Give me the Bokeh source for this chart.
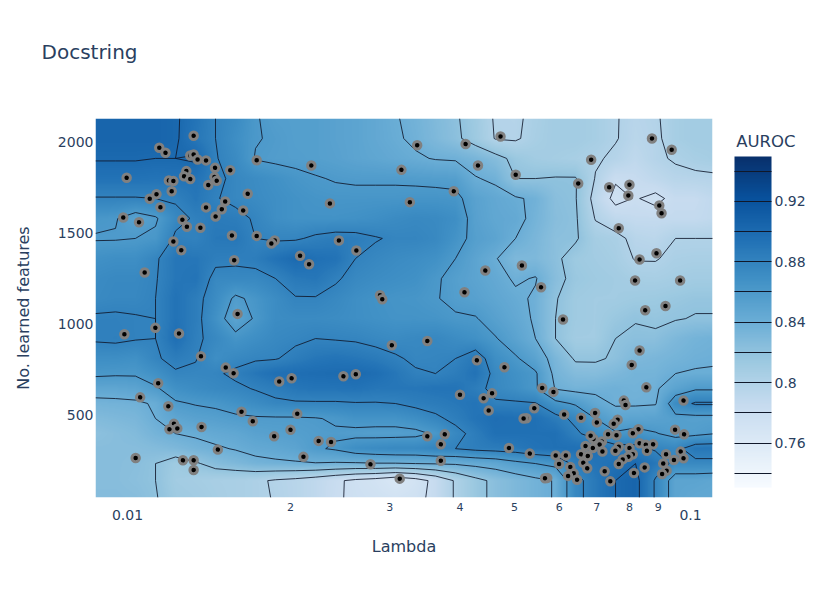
import numpy as np
from bokeh.embed import file_html
from bokeh.resources import INLINE
from bokeh.plotting import figure
from bokeh.models import (ColorBar, FixedTicker, LogAxis, LinearColorMapper, Range1d, Title)

title_text = "Docstring"
x_title = "Lambda"
y_title = "No. learned features"
cbar_title = "AUROC"
NAVY = "#2a3f5f"
FONT = "DejaVu Sans"

x_ticks = [0.02, 0.03, 0.04, 0.05, 0.06, 0.07, 0.08, 0.09]
x_tick_text = ["2", "3", "4", "5", "6", "7", "8", "9"]
x_decades = [0.01027, 0.1027]
x_decade_text = ["0.01", "0.1"]
y_ticks = [500, 1000, 1500, 2000]
levels = [0.74, 0.76, 0.78, 0.80, 0.82, 0.84, 0.86, 0.88, 0.90, 0.92, 0.94]
z_low, z_high = 0.7306, 0.9496
blues = ["#f7fbff", "#deebf7", "#c6dbef", "#9ecae1", "#6baed6", "#4292c6", "#2171b5", "#08519c", "#08306b"]

grid_log_lambda = [-2.0453, -2.0098, -1.9743, -1.9387, -1.9032, -1.8677, -1.8322, -1.7966, -1.7611, -1.7256, -1.6901,
                   -1.6546, -1.6190, -1.5835, -1.5480, -1.5125, -1.4769, -1.4414, -1.4059, -1.3704, -1.3349, -1.2993,
                   -1.2638, -1.2283, -1.1928, -1.1573, -1.1217, -1.0862, -1.0507, -1.0152, -0.9796, -0.9441]
grid_features = [2132, 2022, 1912, 1801, 1691, 1581, 1471, 1360, 1250, 1140, 1029, 919, 809, 726, 643, 561, 478, 395, 312, 230, 136, 42]
auroc_grid = [
 [.905,.905,.905,.905,.902,.892,.880,.873,.861,.856,.855,.855,.852,.85,.846,.841,.836,.829,.822,.812,.798,.797,.805,.81,.81,.807,.801,.795,.798,.807,.81,.81],
 [.905,.905,.905,.905,.902,.89,.88,.87,.861,.858,.855,.855,.852,.85,.846,.842,.837,.83,.823,.813,.799,.798,.806,.81,.81,.807,.801,.794,.797,.807,.81,.81],
 [.901,.901,.901,.90,.90,.902,.881,.873,.859,.857,.856,.855,.853,.85,.848,.845,.842,.839,.838,.833,.826,.815,.81,.808,.806,.802,.797,.79,.797,.802,.806,.808],
 [.893,.893,.893,.892,.893,.892,.884,.876,.872,.868,.864,.861,.859,.858,.858,.858,.857,.856,.855,.841,.837,.82,.82,.821,.821,.799,.782,.785,.79,.795,.796,.797],
 [.879,.879,.879,.88,.882,.89,.881,.876,.873,.87,.867,.865,.864,.864,.864,.864,.865,.865,.864,.852,.846,.842,.837,.824,.821,.793,.775,.781,.776,.785,.785,.79],
 [.863,.861,.852,.858,.875,.882,.887,.885,.878,.87,.867,.867,.867,.868,.87,.873,.875,.874,.87,.853,.847,.845,.835,.825,.822,.799,.79,.787,.787,.787,.787,.79],
 [.859,.859,.86,.863,.883,.881,.889,.89,.88,.878,.878,.883,.886,.885,.881,.878,.878,.875,.866,.855,.85,.84,.832,.823,.822,.808,.805,.795,.793,.80,.80,.80],
 [.868,.87,.87,.878,.89,.89,.884,.883,.885,.893,.90,.895,.893,.88,.876,.873,.871,.868,.86,.85,.841,.83,.83,.823,.813,.81,.807,.799,.799,.804,.805,.805],
 [.873,.875,.875,.879,.89,.892,.875,.875,.875,.88,.888,.89,.882,.875,.872,.87,.868,.862,.855,.85,.845,.838,.841,.825,.815,.812,.81,.807,.806,.808,.81,.81],
 [.874,.876,.876,.88,.893,.885,.872,.857,.864,.872,.879,.879,.875,.87,.867,.865,.864,.861,.856,.853,.848,.843,.838,.821,.812,.81,.81,.812,.813,.815,.817,.817],
 [.882,.882,.881,.88,.893,.885,.868,.85,.862,.872,.873,.873,.872,.87,.868,.866,.866,.865,.862,.861,.853,.846,.838,.82,.812,.81,.815,.819,.817,.819,.821,.821],
 [.882,.883,.881,.88,.896,.883,.875,.865,.87,.875,.877,.88,.879,.878,.875,.873,.875,.876,.872,.868,.861,.851,.84,.82,.81,.81,.82,.823,.823,.83,.835,.837],
 [.87,.87,.868,.878,.885,.881,.87,.875,.878,.879,.885,.89,.892,.89,.887,.882,.877,.878,.88,.889,.87,.862,.851,.832,.818,.818,.822,.83,.832,.835,.838,.839],
 [.863,.862,.862,.868,.878,.877,.878,.883,.89,.896,.897,.898,.899,.90,.897,.89,.882,.88,.885,.893,.875,.868,.862,.835,.827,.826,.83,.835,.835,.84,.841,.841],
 [.848,.848,.85,.858,.868,.872,.875,.877,.881,.885,.89,.892,.892,.893,.89,.89,.89,.892,.892,.885,.875,.87,.862,.839,.835,.836,.838,.836,.838,.85,.858,.858],
 [.835,.836,.837,.842,.858,.861,.863,.867,.872,.877,.878,.878,.878,.879,.879,.88,.884,.886,.889,.892,.882,.882,.881,.865,.858,.846,.838,.838,.839,.872,.882,.882],
 [.828,.83,.832,.84,.848,.852,.854,.857,.858,.858,.858,.859,.862,.866,.866,.866,.87,.877,.884,.892,.897,.895,.895,.886,.876,.86,.849,.85,.851,.855,.854,.854],
 [.822,.825,.828,.835,.84,.842,.845,.847,.852,.854,.855,.857,.858,.856,.855,.855,.856,.862,.875,.885,.895,.895,.895,.895,.883,.872,.862,.866,.861,.855,.856,.86],
 [.825,.825,.825,.827,.83,.835,.838,.841,.845,.847,.85,.858,.862,.87,.873,.875,.875,.879,.88,.884,.886,.888,.893,.895,.895,.895,.887,.885,.878,.875,.89,.89],
 [.825,.825,.824,.82,.812,.818,.826,.83,.835,.837,.838,.839,.838,.838,.839,.839,.84,.841,.842,.845,.848,.855,.86,.865,.885,.892,.895,.90,.89,.875,.875,.875],
 [.825,.825,.823,.82,.81,.808,.806,.805,.803,.798,.795,.79,.783,.776,.772,.765,.772,.785,.802,.815,.824,.83,.836,.841,.875,.888,.90,.905,.878,.85,.85,.848],
 [.826,.826,.825,.821,.812,.81,.807,.805,.803,.799,.795,.79,.782,.777,.775,.772,.775,.785,.802,.815,.824,.83,.836,.841,.875,.888,.90,.905,.878,.85,.847,.846],
]

trial_log_lambda = [
 -1.871,-1.932,-1.921,-1.877,-1.871,-1.864,-1.849,-1.833,-1.806,-1.884,-1.888,-1.877,-1.990,-1.915,-1.907,-1.834,-1.830,-1.845,-1.910,-1.937,
 -1.949,-1.930,-1.996,-1.968,-1.775,-1.815,-1.821,-1.849,-1.832,-1.783,-1.891,-1.883,-1.859,-1.803,-1.759,-1.727,-1.733,-1.907,-1.893,-1.958,
 -1.799,-1.682,-1.666,-1.613,-1.582,-1.759,-1.662,-1.629,-1.502,-1.487,-1.540,-1.536,-1.474,-1.388,-1.326,-1.366,-1.299,-1.409,-1.188,-1.165,
 -1.057,-1.022,-1.133,-1.097,-1.099,-1.044,-1.040,-1.116,-1.049,-1.079,-1.353,-1.288,-1.390,-1.254,-1.087,-1.007,-1.069,-1.033,-1.793,-1.939,
 -1.994,-1.897,-1.858,-1.519,-1.814,-1.800,-1.719,-1.697,-1.605,-1.583,-1.934,-1.966,-1.916,-1.786,-1.766,-1.687,-1.699,-1.728,-1.906,-1.900,
 -1.914,-1.857,-1.828,-1.649,-1.627,-1.676,-1.557,-1.974,-1.890,-1.871,-1.871,-1.505,-1.215,-1.456,-1.079,-1.093,-1.368,-1.319,-1.067,-1.252,
 -1.232,-1.398,-1.341,-1.356,-1.107,-1.104,-1.001,-1.347,-1.266,-1.280,-1.285,-1.213,-1.183,-1.158,-1.155,-1.118,-1.125,-1.081,-1.091,-1.016,
 -1.000,-1.425,-1.456,-1.432,-1.311,-1.274,-1.432,-1.228,-1.210,-1.135,-1.120,-1.161,-1.166,-1.146,-1.150,-1.175,-1.162,-1.079,-1.068,-1.055,
 -1.116,-1.097,-1.066,-1.145,-1.122,-1.183,-1.171,-1.091,-1.099,-1.109,-1.116,-1.032,-1.006,-1.001,-1.018,-1.037,-1.222,-1.179,-1.172,-1.202,
 -1.196,-1.206,-1.190,-1.141,-1.131,-1.089,-1.070,-1.031,-1.039,-1.243,-1.247]
trial_features = [
 2037,1971,1943,1928,1934,1906,1901,1860,1847,1842,1814,1798,1805,1790,1787,1809,1789,1765,1731,1715,
 1690,1643,1586,1560,1717,1675,1632,1642,1592,1625,1574,1535,1530,1487,1485,1460,1443,1454,1406,1283,
 1351,1375,1329,1460,1404,1902,1873,1664,1849,1671,1158,1136,1985,1991,2033,1873,1822,1731,1774,1905,
 2022,1960,1753,1767,1708,1653,1610,1527,1389,1355,1294,1322,1174,1202,1239,1239,1075,1099,1055,978,
 943,947,821,882,759,728,682,700,711,722,673,595,546,516,463,504,416,380,449,424,
 419,432,307,355,349,267,226,261,248,248,195,147,1024,906,853,774,799,761,650,647,
 625,609,617,590,577,553,577,522,535,480,478,500,483,509,457,472,449,419,397,417,
 391,391,380,336,316,285,246,275,275,391,386,366,384,351,335,327,316,342,334,336,
 323,316,300,297,300,281,272,281,268,253,228,281,296,259,250,230,228,234,204,211,
 176,162,141,187,132,178,209,191,173,151,149]

x_lo, x_hi = -2.0453, -0.9495
y_lo, y_hi = 43, 2132

rgb = np.array([[int(c[i:i + 2], 16) for i in (1, 3, 5)] for c in blues], dtype=float)
stops = np.linspace(0, 1, len(blues))
t = np.linspace(0, 1, 256)
palette = ["#%02x%02x%02x" % tuple(int(round(np.interp(v, stops, rgb[:, k]))) for k in range(3)) for v in t]
mapper = LinearColorMapper(palette=palette, low=z_low, high=z_high)

gx = np.array(grid_log_lambda)
gy = np.array(grid_features[::-1], dtype=float)
gz = np.array(auroc_grid[::-1])

fine_x = np.linspace(x_lo, x_hi, 617)
fine_y = np.linspace(y_lo, y_hi, 379)
by_row = np.array([np.interp(fine_x, gx, row) for row in gz])
fine = np.array([np.interp(fine_y, gy, by_row[:, j]) for j in range(by_row.shape[1])]).T

p = figure(width=815, height=577, x_axis_type="log", output_backend="svg", toolbar_location=None,
           x_range=Range1d(10 ** x_lo, 10 ** x_hi), y_range=Range1d(y_lo, y_hi),
           min_border_left=95, min_border_right=103, min_border_top=118, min_border_bottom=80,
           outline_line_color=None, background_fill_color="white")
p.grid.visible = False

p.add_layout(Title(text=cbar_title, align="right", offset=-83, standoff=-65, text_font=FONT, text_font_size="16.5px",
                   text_font_style="normal", text_color=NAVY), "above")
p.add_layout(Title(text=" ", standoff=37, text_font=FONT, text_font_size="10px", text_font_style="normal"), "above")
ttl = Title(text=title_text, align="left", offset=-54, standoff=10, text_font=FONT, text_font_size="20px",
            text_font_style="normal", text_color=NAVY)
p.add_layout(ttl, "above")

p.image(image=[fine], x=10 ** x_lo, y=y_lo, dw=10 ** x_hi - 10 ** x_lo, dh=y_hi - y_lo, color_mapper=mapper)
p.contour(10 ** gx, gy, gz, levels, line_color="#10182a", line_width=1, line_alpha=0.85)
p.scatter(10 ** np.array(trial_log_lambda), trial_features, size=7.5, fill_color="black",
          line_color="#808080", line_width=3)

xa = p.xaxis[0]
xa.ticker = FixedTicker(ticks=x_ticks)
xa.major_label_overrides = dict(zip(x_ticks, x_tick_text))
xa.major_label_text_font_size = "11px"
xa.major_label_text_font = FONT
xa.major_label_text_color = NAVY
xa.major_label_standoff = 5
xa.major_tick_out = 0
xa.major_tick_in = 0
xa.major_tick_line_color = None
xa.minor_tick_line_color = None
xa.axis_line_color = None

xb = LogAxis(ticker=FixedTicker(ticks=x_decades), major_label_overrides=dict(zip(x_decades, x_decade_text)))
xb.major_label_text_font_size = "14px"
xb.major_label_text_font = FONT
xb.major_label_text_color = NAVY
xb.major_label_standoff = -4
xb.major_tick_out = 0
xb.major_tick_in = 0
xb.major_tick_line_color = None
xb.minor_tick_line_color = None
xb.axis_line_color = None
xb.axis_label = x_title
xb.axis_label_text_font = FONT
xb.axis_label_text_font_size = "16px"
xb.axis_label_text_font_style = "normal"
xb.axis_label_text_color = NAVY
xb.axis_label_standoff = 14
p.add_layout(xb, "below")

ya = p.yaxis[0]
ya.ticker = FixedTicker(ticks=y_ticks)
ya.major_label_text_font_size = "14px"
ya.major_label_text_font = FONT
ya.major_label_text_color = NAVY
ya.major_label_standoff = 2
ya.major_tick_out = 0
ya.major_tick_in = 0
ya.major_tick_line_color = None
ya.minor_tick_line_color = None
ya.axis_line_color = None
ya.axis_label = y_title
ya.axis_label_text_font = FONT
ya.axis_label_text_font_size = "16px"
ya.axis_label_text_font_style = "normal"
ya.axis_label_text_color = NAVY
ya.axis_label_standoff = 22

blank = {v: "" for v in levels}
blank.update({0.76: "0.76", 0.80: "0.8", 0.84: "0.84", 0.88: "0.88", 0.92: "0.92"})
cb = ColorBar(color_mapper=mapper, width=37, height=331, location=(639, 10), margin=0, padding=0,
              ticker=FixedTicker(ticks=levels), major_label_overrides=blank,
              major_tick_in=37, major_tick_out=0, major_tick_line_color="#10182a", major_tick_line_width=1,
              minor_tick_line_color=None, bar_line_color=None, border_line_color=None, background_fill_color=None,
              label_standoff=3, major_label_text_font=FONT, major_label_text_font_size="14px",
              major_label_text_color=NAVY)
p.add_layout(cb)

open("out.html", "w").write(file_html(p, INLINE))
